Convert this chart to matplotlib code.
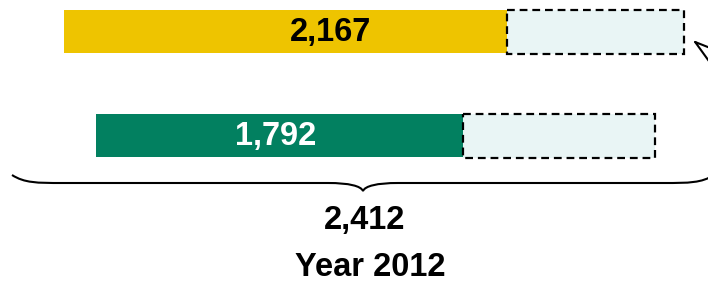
import matplotlib.pyplot as plt
from matplotlib.patches import Rectangle, FancyArrowPatch, PathPatch
from matplotlib.path import Path

# data
values = [2167, 1792]
labels = ['2,167', '1,792']
extra = [865, 938]          # dashed part after each bar
total = 2412
total_label = '2,412'
year_label = 'Year 2012'

bar_colors = ['#EEC400', '#028060']
text_colors = ['black', 'white']

plt.rcParams['font.family'] = ['Liberation Sans', 'DejaVu Sans']

W, H = 708, 283
k = 0.2046                  # pixels per unit
fig = plt.figure(figsize=(W / 100, H / 100), dpi=100)
ax = fig.add_axes([0, 0, 1, 1])
ax.set_xlim(0, W / k)
ax.set_ylim(H, 0)
ax.axis('off')

starts = [64 / k, 96 / k]
ys = [31.5, 135]
bar_h = 43
label_frac = [0.6, 0.49]

for i in range(len(values)):
    ax.barh(ys[i], values[i], left=starts[i], height=bar_h, color=bar_colors[i])
    ax.add_patch(Rectangle((starts[i] + values[i], ys[i] - bar_h / 2), extra[i], bar_h + 1,
                           facecolor='#E9F5F5', edgecolor='black', lw=1.6,
                           linestyle=(0, (3.5, 2.2))))
    ax.text(starts[i] + values[i] * label_frac[i], ys[i] + 1, labels[i], ha='center', va='center',
            fontsize=23.5, fontweight='bold', color=text_colors[i])

# brace under the bars
x0, x1, xm = 12 / k, 714 / k, 363 / k
y_top, y_mid, y_tip = 175, 183, 191
ce = 50 / k     # end curve length
cm_ = 35 / k    # middle curve length
verts = [(x0, y_top), (x0 + ce * 0.25, y_mid), (x0 + ce * 0.5, y_mid), (x0 + ce, y_mid),
         (xm - cm_, y_mid),
         (xm - cm_ * 0.4, y_mid), (xm - 2 / k, y_mid + 3), (xm, y_tip),
         (xm + 2 / k, y_mid + 3), (xm + cm_ * 0.4, y_mid), (xm + cm_, y_mid),
         (x1 - ce, y_mid),
         (x1 - ce * 0.5, y_mid), (x1 - ce * 0.25, y_mid), (x1, y_top)]
codes = [Path.MOVETO, Path.CURVE4, Path.CURVE4, Path.CURVE4,
         Path.LINETO,
         Path.CURVE4, Path.CURVE4, Path.CURVE4,
         Path.CURVE4, Path.CURVE4, Path.CURVE4,
         Path.LINETO,
         Path.CURVE4, Path.CURVE4, Path.CURVE4]
ax.add_patch(PathPatch(Path(verts, codes), facecolor='none', edgecolor='black', lw=1.5))

ax.text(365 / k, 220, total_label, ha='center', va='center', fontsize=23.5, fontweight='bold')
ax.text(370 / k, 268, year_label, ha='center', va='center', fontsize=23.5, fontweight='bold')

# arrow pointing at the top dashed box
ax.add_patch(FancyArrowPatch((780 / k, 108), (690 / k, 38),
                             arrowstyle='-|>,head_length=24,head_width=7',
                             facecolor='white', edgecolor='black', lw=1.5))

fig.savefig('out.png', dpi=100)
